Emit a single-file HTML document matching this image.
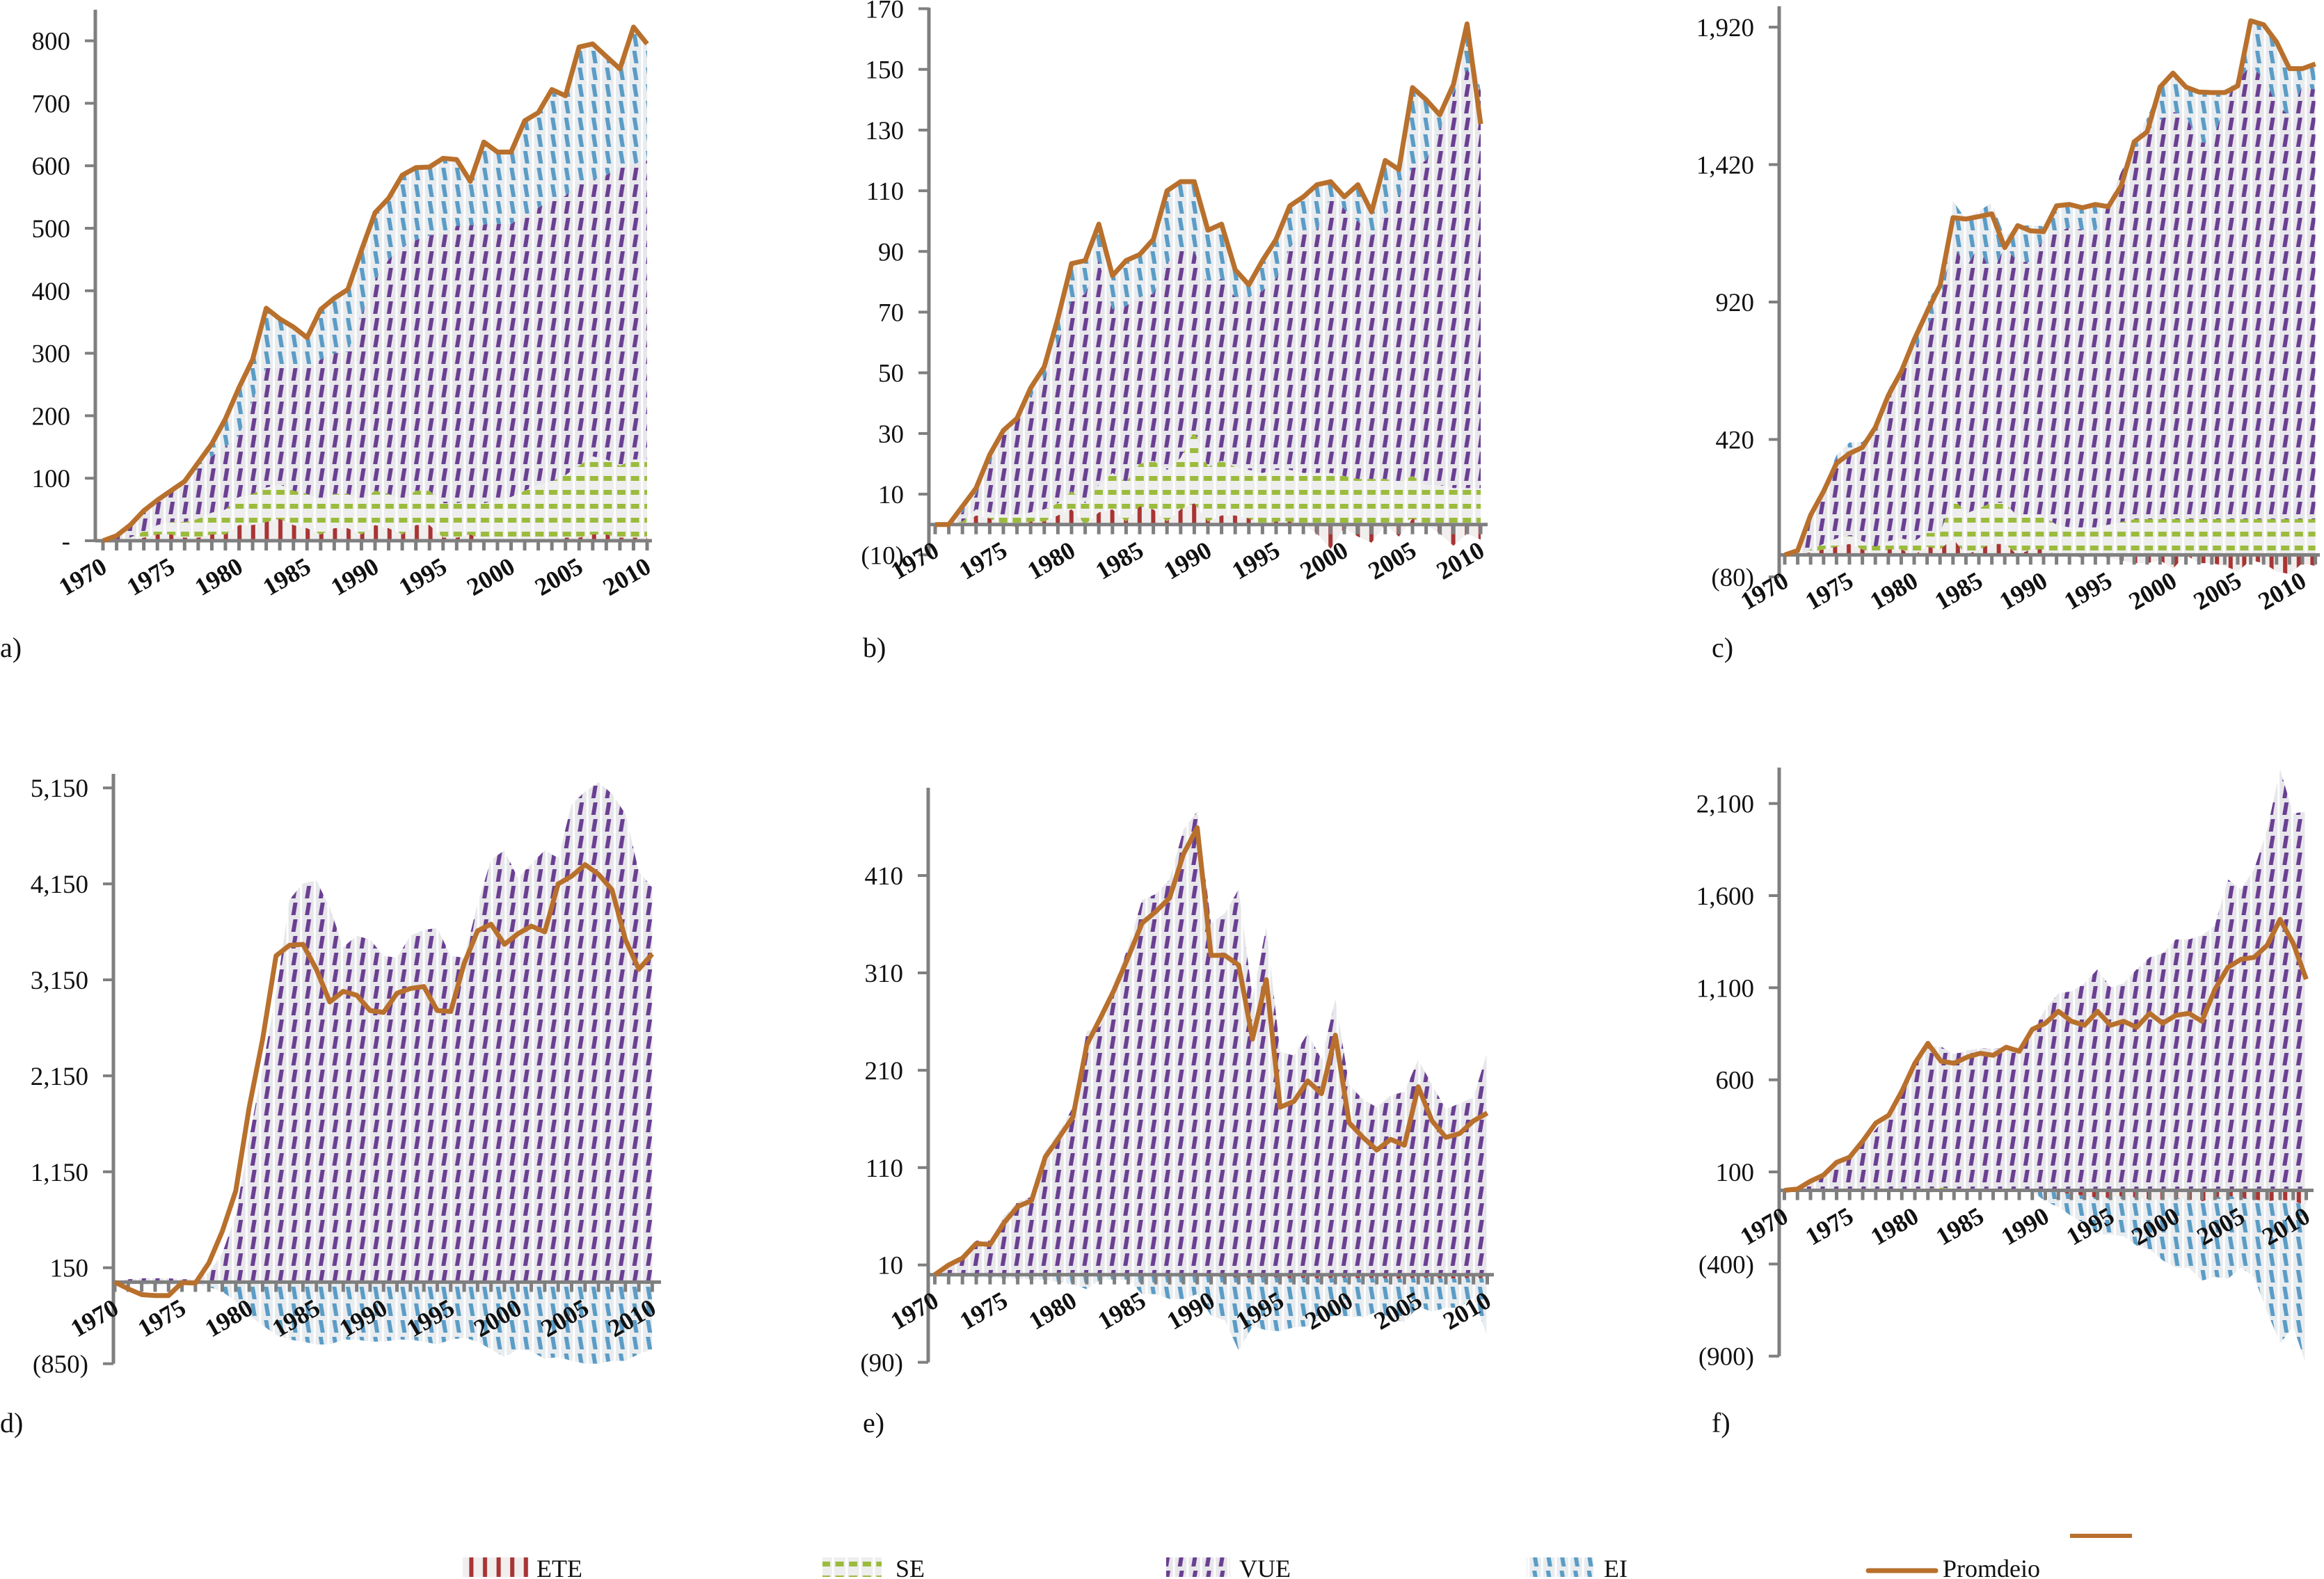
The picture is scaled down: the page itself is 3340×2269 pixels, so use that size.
<!DOCTYPE html>
<html><head><meta charset="utf-8"><style>
html,body{margin:0;padding:0;background:#fff;}
svg{display:block;}
text{font-family:"Liberation Serif",serif;fill:#111;}
</style></head><body>
<svg id="chart" width="3340" height="2269" viewBox="0 0 3340 2269" xmlns="http://www.w3.org/2000/svg">
<defs>
<pattern id="pVUE" patternUnits="userSpaceOnUse" width="19.6" height="24">
<rect width="19.6" height="24" fill="#e7e6ea"/><rect x="0" y="0" width="3" height="24" fill="#fff"/>
<polygon points="10,1 16,1 13,19 7,19" fill="#6a3f92"/></pattern>
<pattern id="pEI" patternUnits="userSpaceOnUse" width="19.6" height="24">
<rect width="19.6" height="24" fill="#e9ecef"/><rect x="0" y="0" width="3" height="24" fill="#fff"/>
<polygon points="7,1 13,1 16,19 10,19" fill="#5a9cc6"/></pattern>
<pattern id="pSE" patternUnits="userSpaceOnUse" width="19.6" height="20">
<rect width="19.6" height="20" fill="#eeeeee"/><rect x="0" y="0" width="3" height="20" fill="#fff"/>
<rect x="5" y="4" width="12" height="7" fill="#9bbb3c"/></pattern>
<pattern id="pETE" patternUnits="userSpaceOnUse" width="19.6" height="20">
<rect width="19.6" height="20" fill="#f1eeee"/><rect x="8" y="0" width="6" height="20" fill="#a83434"/></pattern>
</defs>
<g id="panels"></g>
<g id="legend">
<g><rect x="665" y="2238" width="95" height="28" fill="url(#pETE)"/><text x="771" y="2266" font-size="36">ETE</text></g>
<g><rect x="1182" y="2238" width="85" height="28" fill="url(#pSE)"/><text x="1287" y="2266" font-size="36">SE</text></g>
<g><rect x="1676" y="2238" width="92" height="28" fill="url(#pVUE)"/><text x="1781" y="2266" font-size="36">VUE</text></g>
<g><rect x="2194" y="2238" width="96" height="28" fill="url(#pEI)"/><text x="2305" y="2266" font-size="36">EI</text></g>
<g><line x1="2685" y1="2257" x2="2782" y2="2257" stroke="#b8702c" stroke-width="7" stroke-linecap="round"/><text x="2792" y="2266" font-size="36">Promdeio</text></g>
<line x1="2975" y1="2207" x2="3064" y2="2207" stroke="#b8702c" stroke-width="6"/>
</g>
</svg>
<script>
// ---- Panel a ----
const aLine=[0,8,25,48,65,80,95,125,155,195,245,290,372,355,342,325,370,388,402,465,525,548,585,597,598,612,610,575,638,622,622,672,685,722,712,790,795,775,755,822,795];
const aETE=[0,0,0,5,10,10,5,5,10,10,25,25,30,35,25,20,10,20,20,10,25,20,10,25,25,5,5,10,0,0,0,0,0,0,5,5,10,10,5,5,5];
const aSE=[0,0,5,10,15,20,25,30,35,40,45,50,55,55,55,55,55,55,55,55,55,55,55,55,55,55,55,55,60,65,70,80,90,95,100,115,125,120,115,125,125];
const aVUE=[0,8,20,33,40,50,65,80,90,100,98,150,192,187,197,202,225,225,227,295,337,375,404,401,408,434,444,440,446,442,437,440,443,450,447,451,442,455,477,473,479];
const aEI=[0,0,0,0,0,0,0,10,20,45,77,65,95,78,65,48,80,88,100,105,108,98,116,116,110,118,106,70,132,115,115,152,152,177,160,219,218,190,158,219,186];
const aTicks=[0,100,200,300,400,500,600,700,800];
// ---- Panel b ----
const bLine=[0,0,6,12,23,31,35,45,52,68,86,87,99,82,87,89,94,110,113,113,97,99,84,79,87,94,105,108,112,113,108,112,103,120,117,144,140,135,145,165,132];
const bETE=[0,0,0,3,2,0,-1,1,1,3,5,0,4,5,1,6,5,1,5,7,1,3,3,2,0,1,1,0,-3,-8,-1,-4,-6,0,-4,2,0,-3,-7,-3,-5];
const bSE=[0,0,1,2,2,3,3,3,4,4,6,7,9,12,13,14,16,17,17,24,18,18,16,16,17,17,17,17,17,17,16,15,15,15,14,14,13,13,12,12,12];
const bVUE=[0,0,3,5,16,27,31,38,43,53,63,69,74,54,58,55,55,68,69,59,60,60,56,57,60,63,73,80,80,91,88,85,80,87,94,102,107,117,130,138,131];
const bEI=[0,0,2,2,3,1,1,3,4,8,12,11,12,11,15,14,18,24,22,23,18,18,9,4,10,13,14,11,15,5,4,12,8,18,9,26,20,5,3,15,0];
const bTicks=[-10,10,30,50,70,90,110,130,150,170];
// ---- Panel c ----
const cLine=[0,16,145,231,333,369,391,464,580,667,783,885,980,1227,1222,1231,1241,1118,1198,1179,1176,1270,1275,1263,1275,1267,1343,1503,1539,1702,1753,1702,1684,1682,1682,1706,1943,1929,1866,1769,1769,1786];
const cETE=[0,0,10,20,30,40,20,0,20,20,0,30,20,60,0,20,40,40,0,20,20,0,0,-10,0,-10,-20,-30,-30,-20,-50,0,-30,-30,-40,-60,-20,-30,-60,-70,-30,-40];
const cSE=[0,0,10,20,30,30,30,30,30,40,50,50,60,150,150,150,150,150,140,130,120,110,100,100,100,110,120,130,130,130,130,130,130,130,130,130,130,130,130,130,130,130];
const cVUE=[0,10,120,200,290,310,330,410,510,600,690,750,840,924,895,953,830,931,927,915,1012,1066,1090,1083,1076,1168,1274,1336,1409,1453,1482,1467,1373,1365,1511,1598,1649,1605,1511,1467,1576,1562];
const cEI=[0,6,15,11,13,29,31,24,40,27,43,85,80,153,177,128,261,37,131,134,44,94,85,80,99,0,0,37,50,119,141,105,181,187,41,0,164,194,225,172,63,94];
const cTicks=[-80,420,920,1420,1920];
// ---- Panel d ----
const dLine=[0,-70,-130,-140,-140,-5,-10,200,530,950,1820,2530,3400,3510,3520,3260,2920,3030,2990,2830,2810,3010,3060,3080,2830,2820,3320,3660,3730,3520,3630,3710,3650,4150,4230,4350,4250,4090,3570,3260,3420];
const dETE=[0,0,10,10,10,0,0,0,0,0,0,0,0,5,5,5,5,0,0,0,0,0,0,0,0,0,0,0,0,0,0,0,0,0,0,0,0,0,0,0,0];
const dSE=[0,0,0,0,0,0,0,0,0,0,0,0,0,0,0,0,0,0,0,0,0,0,0,0,0,0,0,0,0,0,0,0,0,0,0,0,0,0,0,0,0];
const dVUE=[0,30,30,30,30,30,30,100,300,700,1500,2240,3010,3980,4150,4180,3900,3490,3610,3570,3400,3380,3610,3670,3690,3400,3380,3940,4400,4500,4210,4360,4500,4420,4980,5110,5210,5090,4880,4280,4110];
const dEI=[0,-20,-30,-30,-30,-20,-20,-50,-100,-200,-350,-450,-550,-600,-620,-650,-650,-600,-600,-620,-620,-600,-600,-620,-650,-600,-580,-620,-700,-780,-700,-720,-800,-780,-820,-850,-850,-820,-820,-750,-700];
const dTicks=[-850,150,1150,2150,3150,4150,5150];
// ---- Panel e ----
const eLine=[0,10,17,32,31,53,70,76,121,141,162,236,264,293,326,361,373,387,432,459,328,328,318,242,303,172,178,199,186,246,156,141,128,139,133,193,158,141,145,158,166];
const eETE=[0,0,0,0,0,0,0,0,0,0,0,0,0,0,0,0,0,0,0,0,-2,-2,-3,-3,-2,-3,-4,-3,-4,-3,-3,-4,-3,-4,-4,-3,-3,-4,-4,-3,-4];
const eSE=[0,0,0,0,0,0,0,0,2,2,2,2,1,0,0,0,0,0,0,0,0,0,0,0,0,0,0,0,0,0,0,0,0,0,0,0,0,0,0,0,0];
const eVUE=[0,10,20,35,35,60,75,80,125,145,170,248,254,301,336,385,391,406,457,476,361,371,396,285,357,229,225,248,221,283,195,180,172,184,188,221,195,170,176,182,229];
const eEI=[0,-2,-2,-3,-3,-4,-4,-5,-5,-8,-10,-15,-5,-5,-5,-20,-20,-25,-25,-20,-40,-45,-75,-50,-55,-55,-50,-50,-40,-40,-40,-40,-35,-40,-45,-30,-35,-30,-30,-20,-60];
const eTicks=[-90,10,110,210,310,410];
// ---- Panel f ----
const fLine=[0,7,50,83,152,180,267,365,408,538,690,798,701,690,723,744,733,777,755,874,907,972,918,896,972,896,918,885,961,907,950,961,918,1091,1211,1254,1265,1330,1471,1341,1146];
const fETE=[0,0,0,0,0,0,0,0,0,0,0,0,10,10,10,10,10,0,0,0,-10,-10,-20,-30,-40,-40,-30,-40,-50,-50,-40,-50,-60,-40,-30,-40,-50,-60,-50,-60,-80];
const fSE=[0,0,0,0,0,0,0,0,0,5,10,10,5,0,0,0,0,0,0,0,0,0,0,0,0,0,0,0,0,0,0,0,0,0,0,0,0,0,0,0,0];
const fVUE=[0,10,40,93,148,190,250,330,420,540,668,770,766,730,750,760,760,770,780,860,983,1070,1080,1124,1200,1102,1124,1200,1265,1287,1362,1362,1384,1438,1688,1634,1742,1959,2284,2046,2056];
const fEI=[-5,-5,-10,-10,-10,-10,-5,-5,-5,-5,-5,-10,-10,-5,-5,-5,-5,-5,-5,-5,-50,-80,-120,-150,-200,-200,-220,-260,-270,-330,-380,-370,-430,-430,-450,-380,-420,-600,-780,-680,-870];
const fTicks=[-900,-400,100,600,1100,1600,2100];
const yearLabels=[1970,1975,1980,1985,1990,1995,2000,2005,2010];

const NS='http://www.w3.org/2000/svg';
const root=document.getElementById('panels');
function mk(tag,attrs,parent){const e=document.createElementNS(NS,tag);for(const k in attrs)e.setAttribute(k,attrs[k]);parent.appendChild(e);return e;}
function fmt(v,dashZero){if(v===0&&dashZero)return '-';const s=Math.abs(v).toLocaleString('en-US');return v<0?'('+s+')':s;}

function panel(cfg){
  const g=mk('g',{},root);
  
  
  const X=i=>cfg.x0+i*cfg.step;
  const Y=v=>cfg.zeroY-v*cfg.ppu;
  const layers=[['ETE',cfg.ETE,'url(#pETE)'],['SE',cfg.SE,'url(#pSE)'],['VUE',cfg.VUE,'url(#pVUE)'],['EI',cfg.EI,'url(#pEI)']];
  const n=cfg.line.length;
  const pos=new Array(n).fill(0), neg=new Array(n).fill(0);
  layers.forEach(([nm,arr,fill])=>{
    const lo=[],hi=[];
    for(let i=0;i<n;i++){const v=arr[i]||0;
      if(v>=0){lo.push(pos[i]);pos[i]+=v;hi.push(pos[i]);}
      else{lo.push(neg[i]);neg[i]+=v;hi.push(neg[i]);}}
    let d='M'+X(0)+','+Y(hi[0]);
    for(let i=1;i<n;i++)d+='L'+X(i)+','+Y(hi[i]);
    for(let i=n-1;i>=0;i--)d+='L'+X(i)+','+Y(lo[i]);
    const p=mk('path',{d:d+'Z',fill:fill},g);
    
    
  });
  const yMin=Y(cfg.ticks[0]);
  const ya=mk('line',{x1:cfg.axisX,y1:cfg.yTop,x2:cfg.axisX,y2:Math.max(yMin,cfg.zeroY),stroke:'#7f7f7f','stroke-width':5},g);
  
  
  const xa=mk('line',{x1:cfg.axisX,y1:cfg.zeroY,x2:cfg.axisEnd,y2:cfg.zeroY,stroke:'#7f7f7f','stroke-width':5},g);
  
  
  for(let i=0;i<=41;i++){const x=X(i);if(x>cfg.axisEnd)break;
    mk('line',{x1:x,y1:cfg.zeroY,x2:x,y2:cfg.zeroY+14,stroke:'#7f7f7f','stroke-width':5},g);}
  cfg.ticks.forEach(t=>{const y=Y(t);
    mk('line',{x1:cfg.axisX-15,y1:y,x2:cfg.axisX,y2:y,stroke:'#7f7f7f','stroke-width':4},g);
    const tx=mk('text',{x:cfg.axisX-36,y:y+13,'font-size':37,'text-anchor':'end'},g);
    
    
    tx.textContent=fmt(t,cfg.dashZero);});
  yearLabels.forEach(yr=>{const x=X(yr-1970)+8,y=cfg.zeroY+44;
    const tx=mk('text',{x:x,y:y,'font-size':36,'font-weight':'bold','text-anchor':'end',transform:'rotate(-30 '+x+' '+y+')'},g);
    
    
    tx.textContent=yr;});
  let d='';cfg.line.forEach((v,i)=>{d+=(i?'L':'M')+X(i)+','+Y(v);});
  const pl=mk('path',{d:d,fill:'none',stroke:'#b8702c','stroke-width':7,'stroke-linejoin':'round'},g);
  
  
  const lb=mk('text',{x:cfg.lx,y:cfg.ly,'font-size':40},g);
  
  
  lb.textContent=cfg.id+')';
}
panel({id:'a',line:aLine,ETE:aETE,SE:aSE,VUE:aVUE,EI:aEI,ticks:aTicks,dashZero:true,axisX:137,x0:148,step:19.55,zeroY:777,ppu:0.898,yTop:14,axisEnd:937,lx:0,ly:944});
panel({id:'b',line:bLine,ETE:bETE,SE:bSE,VUE:bVUE,EI:bEI,ticks:bTicks,axisX:1335,x0:1344,step:19.6,zeroY:753.7,ppu:4.36,yTop:11,axisEnd:2138,lx:1240,ly:944});
panel({id:'c',line:cLine,ETE:cETE,SE:cSE,VUE:cVUE,EI:cEI,ticks:cTicks,axisX:2557,x0:2565,step:18.6,zeroY:797.4,ppu:0.395,yTop:9,axisEnd:3334,lx:2460,ly:944});
panel({id:'d',line:dLine,ETE:dETE,SE:dSE,VUE:dVUE,EI:dEI,ticks:dTicks,axisX:163,x0:165,step:19.31,zeroY:1842.4,ppu:0.1379,yTop:1112,axisEnd:950,lx:0,ly:2058});
panel({id:'e',line:eLine,ETE:eETE,SE:eSE,VUE:eVUE,EI:eEI,ticks:eTicks,axisX:1334,x0:1343.5,step:19.85,zeroY:1831.7,ppu:1.399,yTop:1132,axisEnd:2147,lx:1240,ly:2058});
panel({id:'f',line:fLine,ETE:fETE,SE:fSE,VUE:fVUE,EI:fEI,ticks:fTicks,axisX:2557,x0:2564.5,step:18.75,zeroY:1710.5,ppu:0.2647,yTop:1103,axisEnd:3325,lx:2460,ly:2058});
</script>
</body></html>
